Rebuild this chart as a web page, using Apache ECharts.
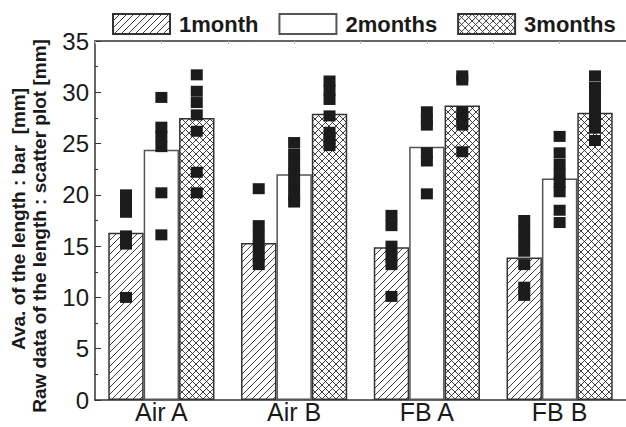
<!DOCTYPE html>
<html>
<head>
<meta charset="utf-8">
<script src="https://cdn.jsdelivr.net/npm/echarts@6/dist/echarts.min.js"></script>
<style>html,body{margin:0;padding:0;background:#fff}#c{width:626px;height:427px}</style>
</head>
<body>
<div id="c"></div>
<script>
const categories = ['Air A', 'Air B', 'FB A', 'FB B'];
const seriesNames = ['1month', '2months', '3months'];
const avg1month = [16.3, 15.3, 14.9, 13.9];
const avg2months = [24.4, 22.0, 24.7, 21.6];
const avg3months = [27.5, 27.9, 28.7, 28.0];
const raw1month = [
  [20.0, 19.0, 18.3, 16.0, 15.2, 10.0],
  [20.6, 17.0, 16.0, 15.0, 14.0, 13.2],
  [18.0, 17.0, 15.0, 14.0, 13.2, 10.1],
  [17.5, 16.5, 15.5, 14.5, 13.2, 11.0, 10.2]
];
const raw2months = [
  [29.5, 26.6, 25.7, 24.7, 20.2, 16.1],
  [25.1, 24.0, 23.0, 22.0, 21.0, 20.0, 19.3],
  [28.1, 27.3, 26.8, 24.1, 23.3, 20.1],
  [25.7, 24.1, 23.0, 22.0, 21.2, 20.3, 18.5, 17.3]
];
const raw3months = [
  [31.7, 30.1, 29.0, 27.8, 26.2, 22.2, 20.2],
  [31.1, 30.2, 29.3, 27.7, 26.1, 25.4, 24.8],
  [31.6, 31.2, 28.1, 27.5, 26.8, 24.2],
  [31.6, 30.5, 29.5, 28.5, 27.5, 26.5, 25.3]
];
const yAxisName1 = 'Ava. of the length : bar  [mm]';
const yAxisName2 = 'Raw data of the length : scatter plot [mm]';

const FONT = '"Liberation Sans", Arial, Helvetica, sans-serif';
const CAT_GAP = 0.2; // barCategoryGap fraction

function hatch(cross) {
  const p = 7;
  const c = document.createElement('canvas');
  c.width = p; c.height = p;
  const g = c.getContext('2d');
  g.fillStyle = '#fff';
  g.fillRect(0, 0, p, p);
  g.strokeStyle = '#2a2a2a';
  g.lineWidth = 0.9;
  g.beginPath();
  g.moveTo(-1, p + 1); g.lineTo(p + 1, -1);
  g.moveTo(-1, 1); g.lineTo(1, -1);
  g.moveTo(p - 1, p + 1); g.lineTo(p + 1, p - 1);
  if (cross) {
    g.moveTo(-1, -1); g.lineTo(p + 1, p + 1);
    g.moveTo(p - 1, -1); g.lineTo(p + 1, 1);
    g.moveTo(-1, p - 1); g.lineTo(1, p + 1);
  }
  g.stroke();
  return c;
}

const fills = [
  { image: hatch(false), repeat: 'repeat' },
  '#ffffff',
  { image: hatch(true), repeat: 'repeat' }
];
const avgs = [avg1month, avg2months, avg3months];
const raws = [raw1month, raw2months, raw3months];

const barSeries = seriesNames.map((name, j) => ({
  name: name,
  type: 'bar',
  xAxisIndex: 0,
  yAxisIndex: 0,
  data: avgs[j],
  barGap: '0%',
  barCategoryGap: (CAT_GAP * 100) + '%',
  itemStyle: { color: fills[j], borderColor: j === 1 ? '#555' : '#333', borderWidth: 1.5 },
  z: 2
}));

const nSeries = seriesNames.length;
const barW = (1 - CAT_GAP) / nSeries;
const scatterSeries = raws.map((raw, j) => {
  const pts = [];
  raw.forEach((vals, i) => {
    const xc = i + (j - (nSeries - 1) / 2) * barW;
    vals.forEach(v => pts.push([xc, v]));
  });
  return {
    name: 'raw ' + seriesNames[j],
    type: 'scatter',
    xAxisIndex: 1,
    yAxisIndex: 0,
    symbol: 'rect',
    symbolSize: [12, 11],
    data: pts,
    itemStyle: { color: '#1c1c1c', opacity: 1 },
    z: 5,
    silent: true
  };
});

const chart = echarts.init(document.getElementById('c'), null, { renderer: 'svg' });
chart.setOption({
  animation: false,
  backgroundColor: '#fff',
  legend: {
    data: seriesNames,
    left: 112,
    top: 13,
    padding: 0,
    itemWidth: 57,
    itemHeight: 20,
    itemGap: 20,
    icon: 'rect',
    textStyle: { fontFamily: FONT, fontWeight: 'bold', fontSize: 22, color: '#1a1a1a', padding: [0, 0, 0, 4] }
  },
  grid: { left: 95, top: 41, width: 535, height: 359 },
  xAxis: [
    {
      type: 'category',
      data: categories,
      position: 'bottom',
      axisLine: { lineStyle: { color: '#333', width: 1.5 } },
      axisTick: { inside: true, alignWithLabel: true, length: 6, lineStyle: { color: '#333', width: 1.2 } },
      axisLabel: { fontFamily: FONT, fontSize: 25, lineHeight: 23, color: '#1a1a1a', margin: 0 },
      splitLine: { show: false }
    },
    {
      type: 'value',
      min: -0.5,
      max: 3.5,
      interval: 0.5,
      position: 'top',
      axisLine: { show: true, onZero: false, lineStyle: { color: '#333', width: 1.5 } },
      axisTick: { show: true, inside: true, length: 3, lineStyle: { color: '#bbb' } },
      axisLabel: { show: false },
      splitLine: { show: false }
    }
  ],
  yAxis: {
    type: 'value',
    min: 0,
    max: 35,
    interval: 5,
    axisLine: { show: true, onZero: false, lineStyle: { color: '#333', width: 1.5 } },
    axisTick: { show: true, inside: true, length: 6, lineStyle: { color: '#333' } },
    minorTick: { show: true, splitNumber: 2, length: 3, lineStyle: { color: '#333' } },
    axisLabel: { fontFamily: FONT, fontSize: 24, color: '#1a1a1a', margin: 6 },
    splitLine: { show: false }
  },
  graphic: [
    {
      type: 'text', x: 18, y: 219, rotation: Math.PI / 2,
      style: { text: yAxisName1, font: 'bold 19px ' + FONT, fill: '#1a1a1a', textAlign: 'center', textVerticalAlign: 'middle' }
    },
    {
      type: 'text', x: 39, y: 226, rotation: Math.PI / 2,
      style: { text: yAxisName2, font: 'bold 19px ' + FONT, fill: '#1a1a1a', textAlign: 'center', textVerticalAlign: 'middle' }
    }
  ],
  series: barSeries.concat(scatterSeries)
});
</script>
</body>
</html>
